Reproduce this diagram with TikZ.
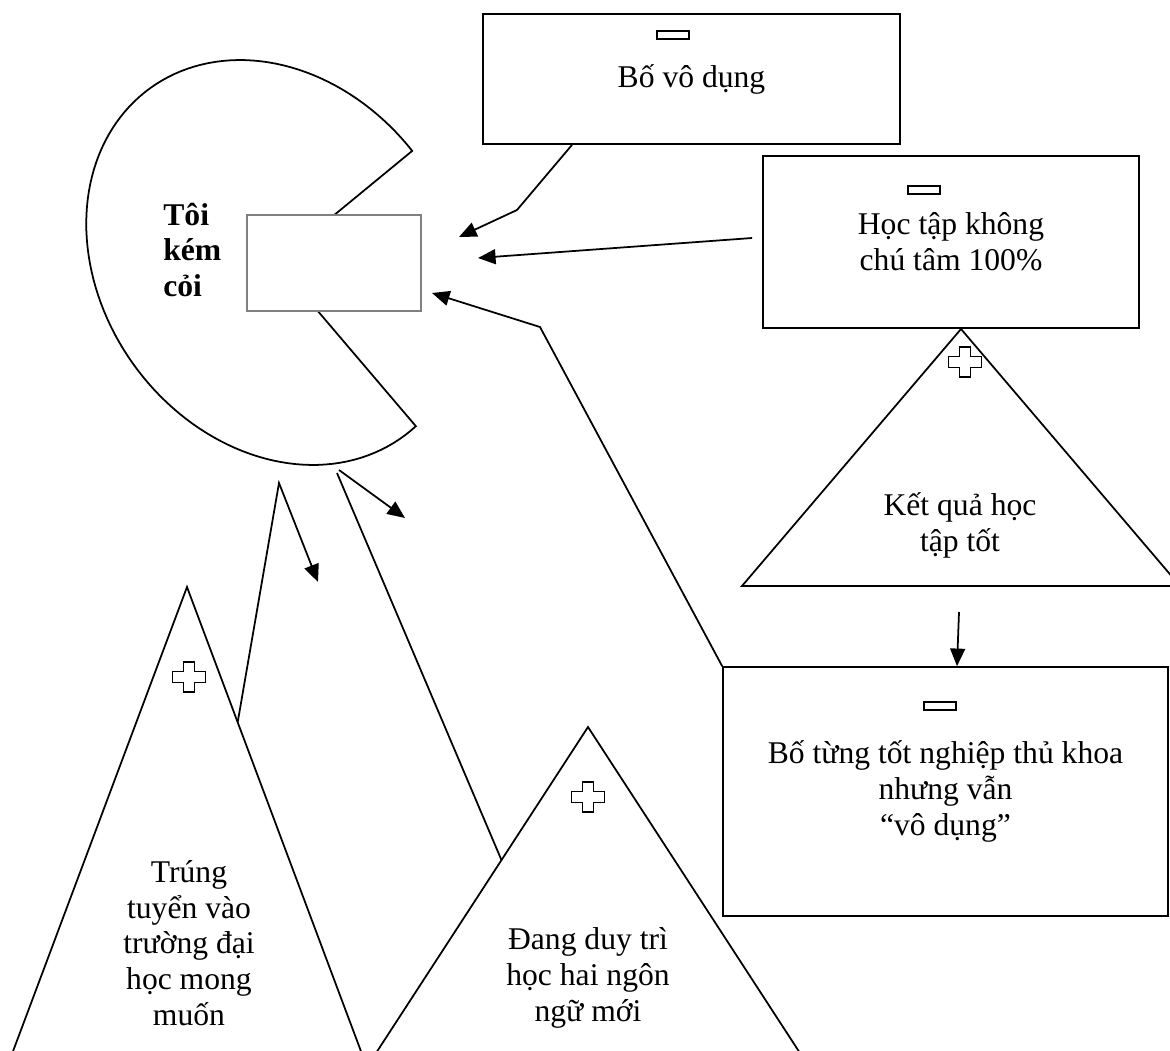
\documentclass[tikz,border=0pt]{standalone}
\usepackage{fontspec}
\setmainfont{Liberation Serif}
\usetikzlibrary{arrows.meta,calc}
\newcommand{\boxfont}{\fontsize{18}{20.4}\selectfont}
\tikzset{
  link/.style={line width=1pt},
  box/.style={draw, line width=1pt, align=center, font=\boxfont},
  lbl/.style={align=center, font=\boxfont, inner sep=0pt},
  minus/.style={draw, line width=1.3pt, minimum width=0.64cm, minimum height=0.15cm, inner sep=0pt},
  arr/.style={line width=1pt, -{Triangle[length=10pt,width=8.5pt]}},
  plusmark/.pic={
    \draw[line width=0.9pt] (-5.5,-15) -- (5.5,-15) -- (5.5,-5.5) -- (16.5,-5.5) -- (16.5,5.5)
      -- (5.5,5.5) -- (5.5,15) -- (-5.5,15) -- (-5.5,5.5) -- (-16.5,5.5) -- (-16.5,-5.5)
      -- (-5.5,-5.5) -- cycle;
  }
}

\begin{document}
\begin{tikzpicture}[x=0.02cm, y=-0.02cm]
  \useasboundingbox (0,0) rectangle (1170,1051);

  % me
  \draw[link] plot[domain=-5.4:267.2, samples=120, variable=\t]
    ({276.5+215.3*cos(\t)*0.5878-175.6*sin(\t)*0.809},{262.5+215.3*cos(\t)*0.809+175.6*sin(\t)*0.5878})
    -- (276.5,262.5) -- cycle;
  \node[draw=gray, line width=1pt, fill=white, minimum width=3.48cm, minimum height=1.92cm] (core) at (334,263) {};
  \node[font=\boxfont\bfseries, align=left, anchor=west, inner sep=0pt] (me) at (163,250) {Tôi\\kém\\cỏi};

  % minus boxes
  \node[box, minimum width=8.34cm, minimum height=2.6cm] (bo) at (691.5,79) {Bố vô dụng};
  \node[minus] (bo-m) at (673,35) {};
  \node[box, minimum width=7.52cm, minimum height=3.44cm] (hoc) at (951,242) {Học tập không\\chú tâm 100\%};
  \node[minus] (hoc-m) at (924,190) {};
  \node[box, minimum width=8.9cm, minimum height=4.98cm] (bt) at (945.5,791.5) {Bố từng tốt nghiệp thủ khoa\\nhưng vẫn\\“vô dụng”};
  \node[minus] (bt-m) at (940,706) {};

  % plus triangles
  \coordinate (kq-top) at (961,329);
  \draw[link] (kq-top) -- (742,586) -- (1180,586) -- cycle;
  \pic at (965,362) {plusmark};
  \node[lbl] (kq) at (960,525) {Kết quả học\\tập tốt};

  \coordinate (tr-top) at (187,587);
  \coordinate (tr-l) at (6,1070);
  \coordinate (tr-r) at (368,1070);
  \draw[link] (tr-l) -- (tr-top) -- (tr-r);
  \pic at (189,677) {plusmark};
  \node[lbl] (tr) at (189,943) {Trúng\\tuyển vào\\trường đại\\học mong\\muốn};

  \coordinate (dg-top) at (588,727);
  \coordinate (dg-l) at (365,1070);
  \coordinate (dg-r) at (811,1070);
  \draw[link] (dg-l) -- (dg-top) -- (dg-r);
  \pic at (588,797) {plusmark};
  \node[lbl] (dg) at (588,978) {Đang duy trì\\học hai ngôn\\ngữ mới};

  % arrows
  \coordinate (k1) at (517,210);
  \coordinate (t1) at (459,237);
  \draw[arr] ([xshift=-2.39cm]bo.south) -- (k1) -- (t1);
  \coordinate (t2) at (478,258);
  \draw[arr] ([shift={(-10,-4)}]hoc.west) -- (t2);
  \coordinate (k3) at (540,327);
  \coordinate (t3) at (432,293);
  \draw[arr] (bt.north west) -- (k3) -- (t3);
  \coordinate (k4) at (959,612);
  \draw[arr] (k4) -- ([xshift=0.23cm]bt.north);
  \coordinate (p5) at (339,470);
  \coordinate (t5) at (405,518);
  \draw[arr] (p5) -- (t5);
  \coordinate (p6) at (337,473);
  \draw[link] (p6) -- ($(dg-top)!0.388!(dg-l)$);
  \coordinate (k7) at (279,483);
  \coordinate (t7) at (318,582);
  \draw[arr] ($(tr-top)!0.28!(tr-r)$) -- (k7) -- (t7);
\end{tikzpicture}
\end{document}
